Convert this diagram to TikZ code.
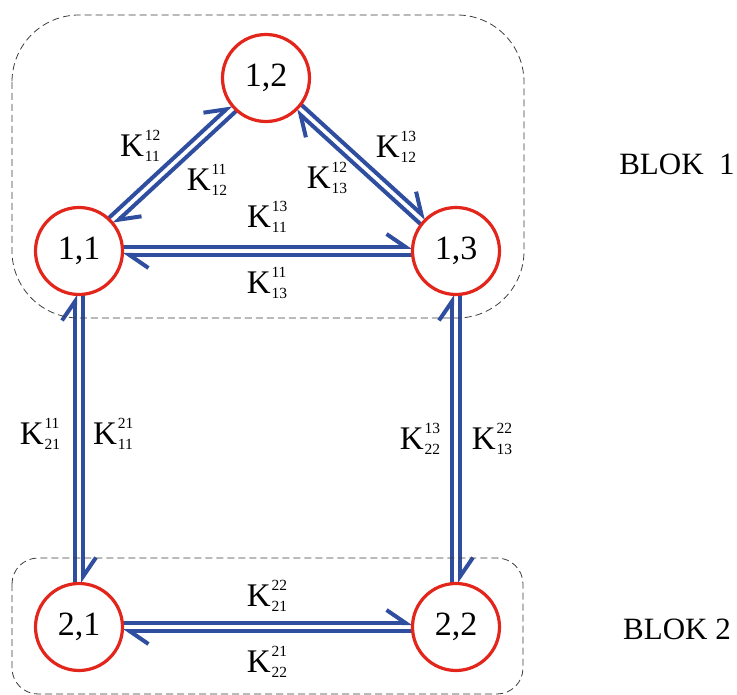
\documentclass[tikz,border=0pt]{standalone}
\usepackage{fontspec}
\setmainfont{Liberation Serif}
\usetikzlibrary{arrows.meta,calc,backgrounds}
\definecolor{cred}{RGB}{226,38,28}
\definecolor{cblue}{RGB}{48,78,160}
\definecolor{cgray}{RGB}{60,60,60}
\newcommand\Kl[2]{K\kern0.8pt\makebox[0pt][l]{\raisebox{16pt}{\fontsize{15.5}{15.5}\selectfont #1}}\raisebox{-5pt}{\fontsize{15.5}{15.5}\selectfont #2}}
\newcommand\twoway[2]{%
  \draw[conn] ($(#1.center)!4pt!90:(#2.center)$) -- ($(#2.center)!4pt!-90:(#1.center)$);
  \draw[conn] ($(#2.center)!4pt!90:(#1.center)$) -- ($(#1.center)!4pt!-90:(#2.center)$);}
\begin{document}
\begin{tikzpicture}[x=1pt,y=-1pt,
  state/.style={circle, draw=cred, line width=3.2pt, minimum size=87pt, inner sep=0pt, font=\fontsize{34}{34}\selectfont},
  lab/.style={font=\fontsize{33}{33}\selectfont, inner sep=0pt},
  blok/.style={font=\fontsize{31}{31}\selectfont, inner sep=0pt},
  conn/.style={draw=cblue, line width=4pt, shorten <=44pt, shorten >=44pt, -{Straight Barb[left, length=19pt, width=26pt]}},
  blockbox/.style={draw=cgray, line width=0.8pt, dash pattern=on 7pt off 4pt}]
\useasboundingbox (0,0) rectangle (737,695);
\draw[blockbox, rounded corners=67pt] (12,15) rectangle (524,318);
\draw[blockbox, rounded corners=26pt] (12,558) rectangle (523,694);
\node[state] (n11) at (79,251) {1,1};
\node[state] (n12) at (266,78) {1,2};
\node[state] (n13) at (456,251) {1,3};
\node[state] (n21) at (79,627) {2,1};
\node[state] (n22) at (456,627) {2,2};
\begin{scope}[on background layer]
\twoway{n11}{n12}
\twoway{n12}{n13}
\twoway{n11}{n13}
\twoway{n11}{n21}
\twoway{n13}{n22}
\twoway{n21}{n22}
\end{scope}
\node[lab] (k1) at (140,146) {\Kl{12}{11}};
\node[lab] (k2) at (207,180) {\Kl{11}{12}};
\node[lab] (k3) at (327,178) {\Kl{12}{13}};
\node[lab] (k4) at (396,147) {\Kl{13}{12}};
\node[lab] (k5) at (267,217) {\Kl{13}{11}};
\node[lab] (k6) at (267,283) {\Kl{11}{13}};
\node[lab] (k7) at (40,434) {\Kl{11}{21}};
\node[lab] (k8) at (113,434) {\Kl{21}{11}};
\node[lab] (k9) at (420,439) {\Kl{13}{22}};
\node[lab] (k10) at (492,439) {\Kl{22}{13}};
\node[lab] (k11) at (267,596) {\Kl{22}{21}};
\node[lab] (k12) at (267,662) {\Kl{21}{22}};
\node[blok] (b1) at (677,164) {BLOK\ \ 1};
\node[blok] (b2) at (677,629) {BLOK 2};
\end{tikzpicture}
\end{document}
